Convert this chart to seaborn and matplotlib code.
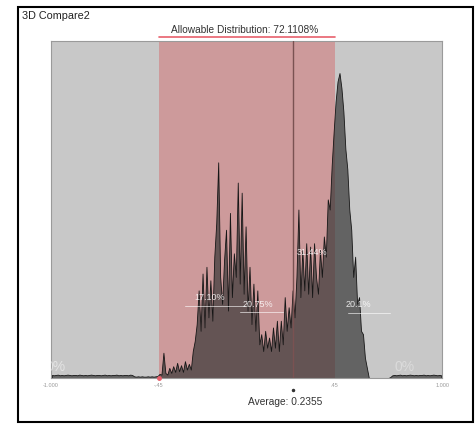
import numpy as np
import pandas as pd
import matplotlib
matplotlib.use("Agg")
import matplotlib.pyplot as plt
import matplotlib.transforms as mtransforms
from matplotlib.patches import Rectangle
import seaborn as sns

# ---- data -------------------------------------------------------------
title = "3D Compare2"
allowable_pct = 72.1108
average = 0.2355
tol_low, tol_high = -0.45, 0.45
bin_width = 0.01

# deviation histogram heights (% of full scale), bins of 0.01 from -1.00 to 1.00
left_tail = [0.9, 0.8, 0.9, 1.0, 0.8, 0.9, 0.8, 0.9, 1.0, 0.9,
             0.8, 0.9, 0.9, 0.8, 1.0, 0.9, 0.8, 0.9, 0.8, 0.9,
             1.0, 0.9, 0.8, 0.9, 0.9, 0.8, 0.9, 1.0, 0.8, 0.9,
             0.8, 0.9, 0.9, 1.0, 0.8, 0.9, 0.8, 0.9, 0.9, 0.8,
             1.0, 0.9, 0.5, 0.4, 0.5, 0.4, 0.5, 0.4, 0.4, 0.5,
             0.4, 0.5, 0.4, 0.5, 0.6]
core = [1.2, 1.0, 7.5, 1.5, 1.0, 3.0, 1.5, 3.5, 1.8, 4.5,
        2.0, 3.8, 1.8, 5.0, 2.5, 4.2, 2.5, 8.0, 11.0, 16.0,
        26.0, 14.0, 31.0, 15.0, 33.0, 18.0, 29.0, 17.0, 36.0, 46.0,
        64.0, 30.0, 22.0, 35.0, 44.0, 20.0, 49.0, 24.0, 37.0, 30.0,
        58.0, 28.0, 55.0, 25.0, 45.0, 20.0, 33.0, 16.0, 28.0, 14.0,
        26.0, 10.0, 13.0, 8.0, 14.0, 9.0, 12.0, 8.0, 15.0, 9.0,
        17.0, 8.0, 17.0, 10.0, 24.0, 14.0, 21.0, 15.0, 26.0, 18.0,
        30.0, 50.0, 24.0, 38.0, 26.0, 40.0, 25.0, 39.0, 24.0, 40.0,
        30.0, 25.0, 38.0, 30.0, 42.0, 36.0, 53.0, 50.0, 63.0, 73.0,
        82.0, 88.0, 90.5, 86.0, 79.0, 68.0, 62.0, 50.0, 44.0, 30.0,
        36.0, 22.0, 24.0, 14.0, 13.0, 6.0, 3.0]
right_tail = [0.0, 0.0, 0.0, 0.0, 0.0, 0.0, 0.0, 0.0, 0.0, 0.0,
              0.0, 0.3, 0.8, 0.9, 0.8, 0.9, 1.0, 0.8, 0.9, 0.8,
              0.9, 1.0, 0.9, 0.8, 0.9, 0.8, 0.9, 0.9, 1.0, 0.8,
              0.9, 0.8, 0.9, 1.0, 0.9, 0.8, 0.9, 0.8]

# zone percentages written on the chart
zone_labels = ["17.10%", "20.75%", "31.44%", "20.1%"]
zone_x = [-0.187, 0.059, 0.335, 0.570]
zone_y = [24.0, 21.7, 37.1, 21.7]

tick_values = [-1.0, tol_low, tol_high, 1.0]
tick_labels = ["-1.000", "-.45", ".45", "1.000"]

# ---- frame --------------------------------------------------------------
heights = left_tail + core + right_tail
n_bins = len(heights)
centers = -1.0 + bin_width * (np.arange(n_bins) + 0.5)
df = pd.DataFrame({"deviation": centers, "pct": heights})

sns.set_theme(style="white")
plt.rcParams["font.family"] = ["Liberation Sans", "DejaVu Sans"]

fig = plt.figure(figsize=(4.76, 4.25), dpi=100)
fig.patch.set_facecolor("white")
ax = fig.add_axes([0.107, 0.1106, 0.822, 0.7929])
ax.set_facecolor("#c8c8c8")

# allowable band and average marker
ax.axvspan(tol_low, tol_high, color="#cd9a9b", zorder=0, lw=0)
sns.histplot(data=df, x="deviation", weights="pct", binwidth=bin_width,
             binrange=(-1.0, 1.0), element="poly", fill=True,
             color="#333333", alpha=0.68, edgecolor="#161616",
             linewidth=0.6, ax=ax, zorder=2)
ax.axvline(average, color="#7a5252", lw=1.0, zorder=3)

ax.set_xlim(-1.0, 1.0)
ax.set_ylim(0, 100)
ax.set_xlabel("")
ax.set_ylabel("")
ax.set_yticks([])
ax.set_xticks(tick_values)
ax.set_xticklabels(tick_labels)
ax.tick_params(axis="x", labelsize=4, colors="#9a9a9a", length=2, pad=1.5)
for s in ax.spines.values():
    s.set_color("#9a9a9a")
    s.set_linewidth(0.8)

# red line marking the allowable range above the plot
trans = mtransforms.blended_transform_factory(ax.transData, ax.transAxes)
ax.plot([tol_low, tol_high], [1.012, 1.012], transform=trans,
        color="#e8606c", lw=1.2, clip_on=False)
ax.plot([tol_low], [0.0], transform=trans, marker="o", ms=2.5,
        color="#e8606c", clip_on=False, zorder=5)

# zone annotations
underlines = [(-0.315, -0.008, 21.4), (-0.033, 0.187, 19.6), None, (0.519, 0.734, 19.3)]
for lab, x, y, ul in zip(zone_labels, zone_x, zone_y, underlines):
    ax.text(x, y, lab, color="white", fontsize=6.5, ha="center", va="center",
            alpha=0.85, zorder=6)
    if ul is not None:
        ax.plot([ul[0], ul[1]], [ul[2], ul[2]], color="white", lw=0.7,
                alpha=0.6, zorder=6)
ax.text(-1.03, 3.3, "0%", color="white", fontsize=10, ha="left",
        va="center", alpha=0.5, zorder=6, clip_on=False)
ax.text(0.81, 3.3, "0%", color="white", fontsize=10, ha="center",
        va="center", alpha=0.35, zorder=6)

# headings
fig.text(22 / 476, 1 - 16 / 425, title, fontsize=7.8, ha="left", va="center",
         color="#222222")
fig.text(245 / 476, 1 - 30 / 425,
         f"Allowable Distribution: {allowable_pct:.4f}%", fontsize=7.3,
         ha="center", va="center", color="#333333")
fig.text(285 / 476, 1 - 402 / 425, f"Average: {average}", fontsize=7.3,
         ha="center", va="center", color="#333333")
ax.plot([average], [-0.035], transform=trans, marker="o", ms=1.5,
        color="#333333", clip_on=False)

# outer frame
fig.patches.append(Rectangle((18 / 476, 3 / 425), 455 / 476, 415 / 425,
                             transform=fig.transFigure, fill=False,
                             edgecolor="black", lw=1.5))

fig.savefig("out.png", dpi=100, facecolor="white")
